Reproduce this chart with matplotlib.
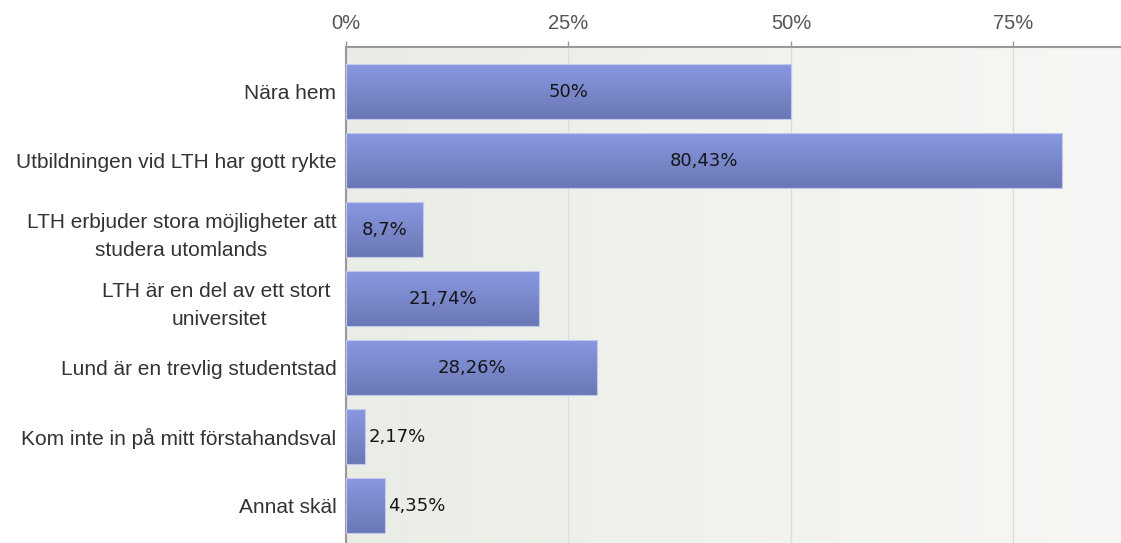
import numpy as np
import matplotlib
matplotlib.use('Agg')
import matplotlib.pyplot as plt
from matplotlib.colors import LinearSegmentedColormap

categories = ['Nära hem',
              'Utbildningen vid LTH har gott rykte',
              'LTH erbjuder stora möjligheter att\nstudera utomlands',
              'LTH är en del av ett stort \nuniversitet',
              'Lund är en trevlig studentstad',
              'Kom inte in på mitt förstahandsval',
              'Annat skäl']
values = [50, 80.43, 8.7, 21.74, 28.26, 2.17, 4.35]
value_labels = ['50%', '80,43%', '8,7%', '21,74%', '28,26%', '2,17%', '4,35%']
ticks = [0, 25, 50, 75]
tick_labels = ['0%', '25%', '50%', '75%']

fig = plt.figure(figsize=(11.21, 5.43), dpi=100)
ax = fig.add_axes([346 / 1121, 0, 775 / 1121, (543 - 47) / 543])

# background gradient
bg = LinearSegmentedColormap.from_list('bg', ['#eaede6', '#f7f8f5'])
ax.imshow(np.linspace(0, 1, 256).reshape(1, -1), cmap=bg, aspect='auto',
          extent=[0, 1, 0, 1], transform=ax.transAxes, zorder=0)

y = np.arange(len(categories))
bars = ax.barh(y, values, height=0.8, color='none', edgecolor='#c2c8ee',
               linewidth=0.8, zorder=3)

barcm = LinearSegmentedColormap.from_list('bar', ['#8998e2', '#6b78b6'])
grad = np.linspace(0, 1, 64).reshape(-1, 1)
for b in bars:
    x0, y0, w, h = b.get_x(), b.get_y(), b.get_width(), b.get_height()
    im = ax.imshow(grad, cmap=barcm, aspect='auto',
                   extent=[x0, x0 + w, y0 + h, y0], zorder=2)
    im.set_clip_path(b)

for yi, v, lab in zip(y, values, value_labels):
    if v > 6:
        ax.text(v / 2, yi, lab, ha='center', va='center', fontsize=13,
                family='DejaVu Sans', color='#151515', zorder=4)
    else:
        ax.text(v + 0.4, yi, lab, ha='left', va='center', fontsize=13,
                family='DejaVu Sans', color='#151515', zorder=4)

ax.set_xlim(0, 87.1)
ax.set_ylim(6.54, -0.65)
ax.set_yticks(y)
ax.set_yticklabels(categories, family='Liberation Sans', fontsize=15,
                   color='#333333', multialignment='center', linespacing=1.6)
ax.tick_params(axis='y', length=0, pad=7)
ax.xaxis.tick_top()
ax.set_xticks(ticks)
ax.set_xticklabels(tick_labels, family='Liberation Sans', fontsize=14.5,
                   color='#555555')
ax.tick_params(axis='x', length=4, width=1, color='#999999', pad=6,
               direction='out')
ax.grid(axis='x', color='#dcdcdc', linewidth=1, zorder=1)
ax.set_axisbelow(True)
for s in ['right', 'bottom']:
    ax.spines[s].set_visible(False)
for s in ['top', 'left']:
    ax.spines[s].set_color('#999999')
    ax.spines[s].set_linewidth(1.5)

fig.savefig('out.png', dpi=100)
